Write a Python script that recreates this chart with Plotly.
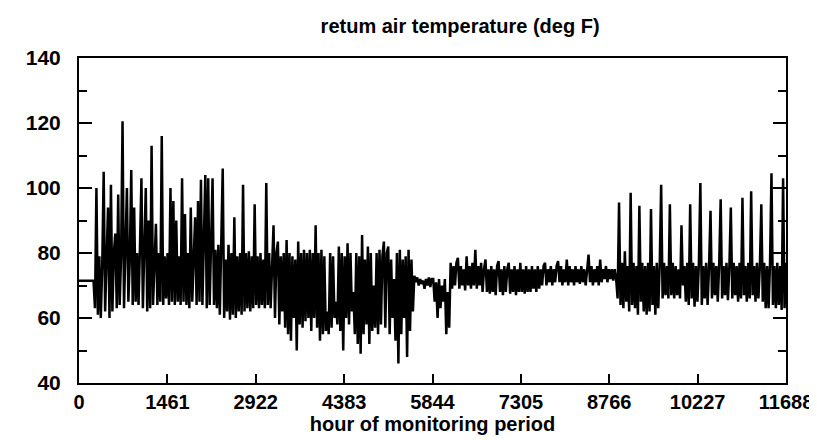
import plotly.graph_objects as go

# return air temperature, one reading every 24 h (deg F)
STEP_H = 24

# hours 0-240: flat before logging of the band starts
lead_f = [71.5, 71.5, 71.5, 71.5, 71.5, 71.5, 71.5, 71.5, 71.5, 71.5, 71.5]

# hours ~264-2904: wide daily swing with many warm-up spikes
part_a_f = [
    63, 100, 61, 79, 60, 76, 105, 62, 78, 94,
    60, 101, 62, 80, 86, 63, 98, 64, 79, 120.5,
    63, 81, 100, 65, 78, 105.5, 64, 94, 65, 80,
    64, 82, 103, 63, 78, 100, 62, 90, 63, 113,
    64, 79, 89, 64, 80, 65, 116, 64, 79, 66,
    80, 64, 100, 65, 96, 64, 90, 65, 79, 64,
    103, 65, 92, 64, 80, 63, 94, 65, 80, 91,
    64, 96, 65, 102.5, 64, 80, 104, 63, 103, 64,
    80, 103, 64, 81, 63, 82.5, 61, 79, 106, 60,
    78, 62, 82.5, 59.5, 80, 61, 91, 60, 79, 62,
    80, 61, 101, 62, 80, 63, 80.5, 62, 79, 63, 95,
]

# hours ~2928-5832: deeper night setback, then quiet spell
part_b_f = [
    64, 79, 63, 80, 64, 78, 63, 101.5, 64, 80,
    63, 79, 88.5, 60, 80, 83.5, 58, 79, 62, 80,
    57, 84, 55, 80, 53, 79, 60, 78, 50, 83.5,
    58, 80, 57, 81, 59, 80, 60, 81, 56, 80,
    60, 88.5, 57, 80, 53, 81, 55, 79, 56, 62,
    55, 80, 57, 79, 60, 65, 58, 82, 56, 80,
    50, 79, 60, 83, 58, 80, 62, 68, 55, 80,
    52, 79, 49, 85.5, 55, 78, 58, 82, 52, 80,
    56, 70, 57, 80, 55, 81, 58, 79, 83.5, 57,
    80, 82, 55, 78, 60, 72, 53, 80, 46, 81,
    55, 78, 60, 79, 48, 81, 56, 78, 62, 73,
    71, 72.5, 70, 72, 70.5, 71.5, 69, 72, 70, 72.5, 69.5, 72,
]

# hours ~5856-8880: dip, then narrow steady band
part_c_f = [
    72, 65, 71, 60, 72, 63, 70, 65, 72, 55,
    68, 57, 77, 69, 76, 70, 77, 78.5, 69, 76,
    70, 75, 68.5, 79, 70, 76, 69, 77, 70, 81,
    69, 76, 70, 77, 68, 75, 78, 68, 75, 67.5,
    76, 68, 75, 67, 76, 77.5, 68, 75, 67, 76,
    68, 75, 77, 67.5, 75, 68, 76, 67, 75, 68,
    77, 68, 75, 67.5, 76, 68, 75, 68, 76, 69,
    75, 68, 76, 69, 75, 70, 76, 77, 70, 75,
    71, 76, 70, 75, 71, 76, 77.5, 71, 76, 70,
    75, 71, 78, 70, 76, 71, 75, 70, 76, 71,
    75, 70.5, 76, 71, 75, 70, 76, 79.5, 71, 76,
    70, 75, 71, 76, 70, 78, 71, 75, 72, 76,
    71, 75, 72, 75, 71.5, 75, 72,
]

# hours ~8904-11688: weekly Monday spikes return
part_d_f = [
    66, 95.5, 64, 77, 63, 80.5, 65, 76, 62, 98.5,
    64, 77, 63, 76, 61, 94.5, 65, 77, 62, 76,
    61, 77, 62, 93.5, 64, 76, 61, 77, 63, 76,
    101, 66, 77, 67, 76, 66, 95, 67, 77, 66,
    76, 67, 75, 66, 88.5, 70, 76, 65, 77, 64,
    95, 66, 77, 63.5, 76, 65, 77, 101.5, 64, 76,
    66, 77, 64, 76, 93, 66, 77, 67, 76, 65,
    77, 96.5, 66, 76, 67, 77, 65.5, 76, 94, 66,
    77, 67, 76, 65, 77, 66, 97, 67, 76, 65,
    77, 66, 99, 67, 76, 65, 77, 66, 76, 95,
    65, 77, 63, 76, 63, 77, 104.5, 64, 76, 63,
    77, 64, 76, 62.5, 103, 63, 77,
]

x_ticks = [0, 1461, 2922, 4383, 5844, 7305, 8766, 10227, 11688]
y_ticks = [40, 60, 80, 100, 120, 140]

temp_f = lead_f + part_a_f + part_b_f + part_c_f + part_d_f
hours = [STEP_H * i for i in range(len(temp_f))]

FONT = "Liberation Sans"

fig = go.Figure()
fig.add_trace(go.Scatter(x=hours, y=temp_f, mode="lines",
                         line=dict(color="black", width=2.5),
                         showlegend=False))

fig.update_layout(
    width=817, height=440,
    margin=dict(l=71, r=33, t=50, b=65),
    plot_bgcolor="white", paper_bgcolor="white",
    title=dict(text="retum air temperature (deg F)",
               x=0.539, xref="paper", xanchor="center",
               y=0.959, yref="container", yanchor="middle",
               font=dict(family=FONT, size=20, color="black", weight="bold")),
)

fig.update_xaxes(
    range=[0, 11688], tickvals=x_ticks, ticktext=[str(t) for t in x_ticks],
    ticks="inside", ticklen=9, tickwidth=2, tickcolor="black",
    showline=True, linewidth=2, linecolor="black", mirror=True,
    showgrid=False, zeroline=False,
    tickfont=dict(family=FONT, size=20, color="black", weight="bold"),
    title=dict(text="hour of monitoring period", standoff=2,
               font=dict(family=FONT, size=20, color="black", weight="bold")),
)

fig.update_yaxes(
    range=[40, 140], tickvals=y_ticks,
    ticks="inside", ticklen=13, tickwidth=2, tickcolor="black",
    minor=dict(dtick=10, tick0=40, ticks="inside", ticklen=8, tickwidth=2, tickcolor="black"),
    showline=True, linewidth=2, linecolor="black", mirror="ticks",
    showgrid=False, zeroline=False, ticklabelstandoff=12,
    tickfont=dict(family=FONT, size=21, color="black", weight="bold"),
)

fig.write_html("out.html")
